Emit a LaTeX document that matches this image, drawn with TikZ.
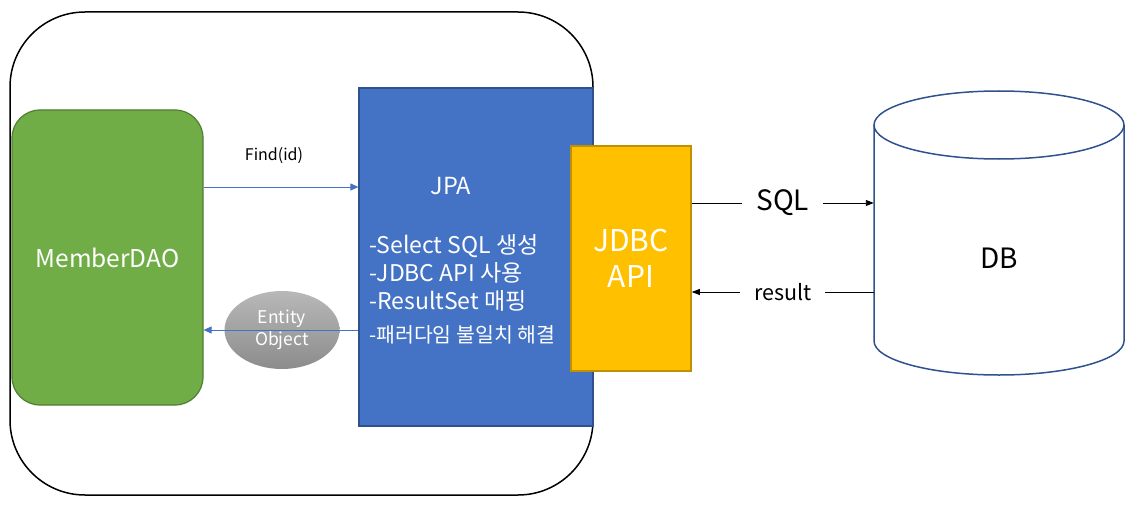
\documentclass[tikz,border=0pt]{standalone}
\usepackage{fontspec}
\setmainfont{Noto Sans CJK KR}
\usetikzlibrary{arrows.meta,shapes.geometric}
\definecolor{daofill}{HTML}{70AD47}
\definecolor{daoline}{HTML}{507E32}
\definecolor{jpafill}{HTML}{4472C4}
\definecolor{jpaline}{HTML}{2F528F}
\definecolor{jdbcfill}{HTML}{FFC000}
\definecolor{jdbcline}{HTML}{BF9000}
\definecolor{enttop}{HTML}{B8B8B8}
\definecolor{entbot}{HTML}{8C8C8C}
\tikzset{
  fs/.style={font=\fontsize{#1}{#1}\selectfont},
  outerbox/.style={draw=black, line width=1.5pt, rounded corners=75pt, minimum width=583pt, minimum height=483pt, inner sep=0pt},
  daobox/.style={draw=daoline, fill=daofill, line width=1.2pt, rounded corners=28pt, minimum width=191pt, minimum height=295pt, inner sep=0pt, text=white, fs=24.5},
  jpabox/.style={draw=jpaline, fill=jpafill, line width=1.2pt, minimum width=234pt, minimum height=338pt, inner sep=0pt},
  jdbcbox/.style={draw=jdbcline, fill=jdbcfill, line width=1.5pt, minimum width=120pt, minimum height=225pt, inner sep=0pt, text=white, align=center, font=\fontsize{30}{36}\selectfont},
  entity/.style={ellipse, top color=enttop, bottom color=entbot, draw=none, minimum width=115pt, minimum height=78pt, inner sep=0pt, text=white, align=center, font=\fontsize{17.5}{22}\selectfont},
  dbline/.style={draw=jpaline, line width=1.5pt},
  bluearrow/.style={draw=jpafill, line width=0.9pt, -{Triangle[length=8pt,width=7pt]}},
  blackarrow/.style={draw=black, line width=0.9pt, -{Triangle[length=8pt,width=6pt]}},
  whitetext/.style={text=white, inner sep=0pt},
  edgelabel/.style={fill=white, inner xsep=14pt, inner ysep=2pt},
}
\begin{document}
\begin{tikzpicture}[x=1pt,y=-1pt]
\useasboundingbox (0,0) rectangle (1140,516);
% outer application box
\node[outerbox] (app) at (301.5,253.5) {};
% MemberDAO
\node[daobox] (dao) at (107.5,257.5) {MemberDAO};
% JPA
\node[jpabox] (jpa) at (476,257) {};
\node[whitetext, fs=23.5] (jpatitle) at (451,186) {JPA};
\node[whitetext, fs=23, anchor=west] (l1) at (369,246) {-Select SQL 생성};
\node[whitetext, fs=23, anchor=west] (l2) at (369,273) {-JDBC API 사용};
\node[whitetext, fs=23, anchor=west] (l3) at (369,301) {-ResultSet 매핑};
\node[whitetext, fs=20.5, anchor=west] (l4) at (369,335) {-패러다임 불일치 해결};
% JDBC API
\node[jdbcbox] (jdbc) at (631,258.5) {JDBC\\API};
% DB cylinder
\draw[dbline] (874,125) -- (874,341) arc[start angle=180, end angle=360, x radius=125pt, y radius=34pt] -- (1124,125);
\draw[dbline] (999,125) ellipse [x radius=125pt, y radius=34pt];
\node[minimum width=250pt, minimum height=216pt, inner sep=0pt, fs=28] (db) at (999,258) {DB};
% Find(id)
\draw[bluearrow] (dao.east |- 0,187) -- (jpa.west |- 0,187);
\node[fs=16] (findlbl) at (274,156) {Find(id)};
% Entity Object return
\node[entity] (ent) at (282,330) {Entity\\Object};
\draw[bluearrow] (jpa.west |- 0,330) -- (dao.east |- 0,330);
% SQL / result
\draw[blackarrow] (jdbc.east |- 0,203) -- node[edgelabel, fs=28] (sqllbl) {SQL} (db.west |- 0,203);
\draw[blackarrow] (db.west |- 0,292) -- node[edgelabel, fs=21.5] (reslbl) {result} (jdbc.east |- 0,292);
\end{tikzpicture}
\end{document}
